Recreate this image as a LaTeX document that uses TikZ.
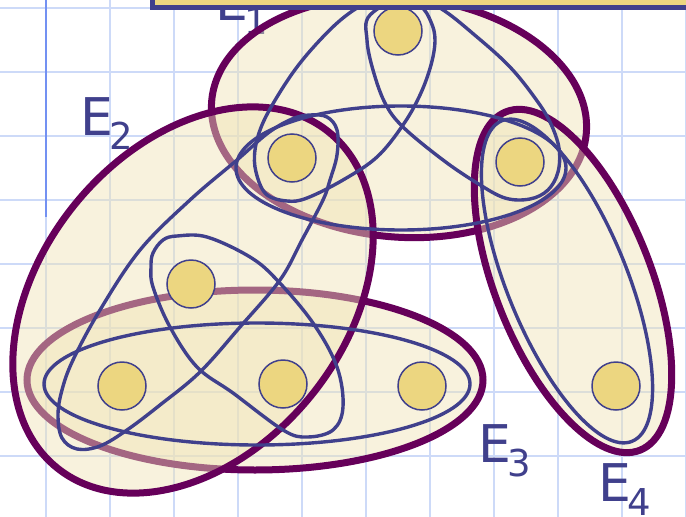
\documentclass[tikz,border=0pt]{standalone}
\usepackage{fontspec}
\setmainfont{DejaVu Sans}
\definecolor{gridc}{RGB}{205,218,248}
\definecolor{marginblue}{RGB}{115,145,242}
\definecolor{edgeblue}{RGB}{64,64,140}
\definecolor{hyper}{RGB}{102,0,90}
\definecolor{hfill}{RGB}{240,228,180}
\definecolor{vfill}{RGB}{236,214,128}
\tikzset{
  gridline/.style={draw=gridc, line width=2.6pt},
  hyperedge/.style={draw=hyper, line width=7pt, fill=hfill, fill opacity=0.45},
  edgeloop/.style={draw=edgeblue, line width=3.4pt},
  vtx/.style={circle, draw=edgeblue, line width=1.5pt, fill=vfill, minimum size=48pt, inner sep=0pt},
  lbl/.style={text=edgeblue, font=\fontsize{52pt}{52pt}\selectfont, inner sep=0pt, anchor=base west},
  topbox/.style={draw=edgeblue, line width=5pt, fill=vfill}
}
\newcommand{\sub}[1]{\kern-4pt\raisebox{-14.5pt}{\fontsize{37pt}{37pt}\selectfont #1}}
\begin{document}
\begin{tikzpicture}[x=1pt, y=-1pt]
\useasboundingbox (0,0) rectangle (686,517);
\clip (0,0) rectangle (686,517);
\fill[white] (0,0) rectangle (686,517);
% grid
\foreach \gx in {46,110,...,686} \draw[gridline] (\gx,-5) -- (\gx,525);
\foreach \gy in {8,72,...,520} \draw[gridline] (-5,\gy) -- (691,\gy);
\draw[marginblue, line width=2pt] (45.5,-5) -- (45.5,217);
% label E1 (partly under the box)
\node[lbl] (l1) at (215,20) {E\sub{1}};
% hyperedges
\draw[hyperedge, shift={(399,117)}, rotate=-5] (0,0) ellipse [x radius=188pt, y radius=120pt];
\draw[hyperedge] (255,380) ellipse [x radius=228pt, y radius=90pt];
\draw[hyperedge, shift={(193,300)}, rotate=50.9] (0,0) ellipse [x radius=216pt, y radius=152pt];
\draw[hyperedge, shift={(573,281)}, rotate=-68.4] (0,0) ellipse [x radius=182pt, y radius=78pt];
% edges inside
\draw[edgeloop] plot[smooth cycle, tension=0.6] coordinates {(393,-4) (420,6) (431,22) (435,40) (431,65) (420,95) (403,125) (377,157) (343,180) (307,198) (287,201) (266,194) (256,172) (255,150) (262,125) (277,97) (297,67) (320,40) (343,18) (365,4)};
\draw[edgeloop] plot[smooth cycle, tension=0.6] coordinates {(408,-4) (440,8) (477,37) (510,67) (535,98) (550,122) (559,148) (558,172) (548,190) (530,199) (505,198) (477,183) (443,160) (403,127) (385,103) (373,70) (367,40) (370,15)};
\draw[edgeloop] (401,168) ellipse [x radius=165pt, y radius=62pt];
\draw[edgeloop] plot[smooth cycle, tension=0.6] coordinates {(310,115) (327,117) (337,130) (337,155) (330,180) (323,200) (302,240) (280,280) (240,327) (200,372) (160,405) (127,430) (100,446) (77,449) (62,438) (58,415) (62,390) (73,360) (100,310) (140,250) (190,200) (237,160) (268,133) (292,119)};
\draw[edgeloop] plot[smooth cycle, tension=0.6] coordinates {(153,253) (163,240) (177,236) (207,237) (250,257) (277,280) (313,323) (337,367) (343,407) (333,430) (307,437) (283,430) (233,393) (197,367) (170,327) (153,287) (151,267)};
\draw[edgeloop] (257,384) ellipse [x radius=213pt, y radius=61pt];
\draw[edgeloop, shift={(567,281)}, rotate=-67.9] (0,0) ellipse [x radius=173pt, y radius=60pt];
% vertices
\node[vtx] (t)  at (398,31) {};
\node[vtx] (v1) at (292,158) {};
\node[vtx] (v2) at (520,162) {};
\node[vtx] (v3) at (191,284) {};
\node[vtx] (v4) at (122,386) {};
\node[vtx] (v5) at (283,384) {};
\node[vtx] (v6) at (422,386) {};
\node[vtx] (v7) at (616,386) {};
% labels
\node[lbl] (l2) at (80,135) {E\sub{2}};
\node[lbl] (l3) at (478,462) {E\sub{3}};
\node[lbl] (l4) at (598,501) {E\sub{4}};
% top box
\draw[topbox] (152.5,-40) rectangle (730,7.5);
\end{tikzpicture}
\end{document}
